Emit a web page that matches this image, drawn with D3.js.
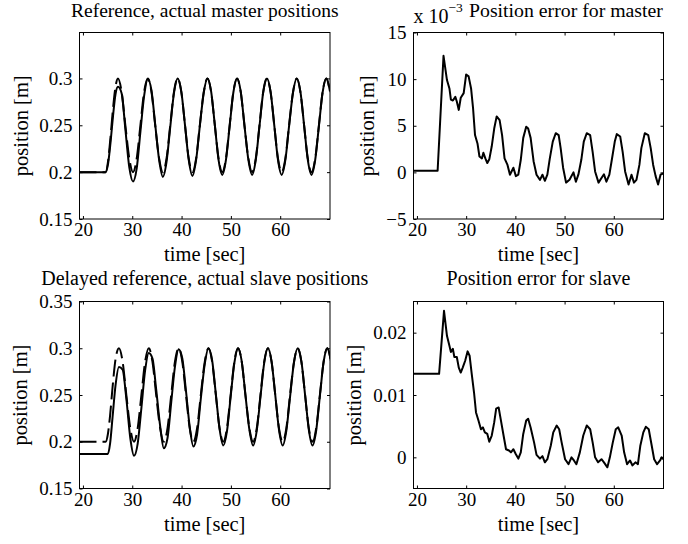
<!DOCTYPE html>
<html>
<head>
<meta charset="utf-8">
<script src="https://cdn.jsdelivr.net/npm/d3@7"></script>
<style>
body { margin: 0; background: #fff; }
svg text { font-family: "Liberation Serif", "Times New Roman", serif; fill: #000; }
</style>
</head>
<body>
<svg id="chart" width="688" height="544"></svg>
<script>
// shared x axis (time, sec)
var xDomain = [19.3, 70.1];
var xTicks = [20, 30, 40, 50, 60];

// master: reference (dashed) and actual position, m
var tMaster = [19.3, 24.6, 25.1, 25.6, 26.1, 26.6, 27.1,
  27.85, 28.6, 29.4, 30.15, 30.9, 31.65, 32.4, 33.15,
  33.9, 34.65, 35.45, 36.2, 36.95, 37.7, 38.45, 39.2,
  39.95, 40.7, 41.45, 42.2, 42.95, 43.7, 44.5, 45.25,
  46.0, 46.75, 47.5, 48.25, 49.0, 49.75, 50.5, 51.25,
  52.0, 52.75, 53.55, 54.3, 55.05, 55.8, 56.55, 57.3,
  58.05, 58.8, 59.55, 60.3, 61.05, 61.8, 62.6, 63.35,
  64.1, 64.85, 65.6, 66.35, 67.1, 67.85, 68.6, 69.35, 70.1];
var masterRef = [0.2, 0.2, 0.212, 0.238, 0.268, 0.291, 0.3,
  0.2854, 0.25, 0.2146, 0.2, 0.2146, 0.25, 0.2854, 0.3,
  0.2854, 0.25, 0.2146, 0.2, 0.2146, 0.25, 0.2854, 0.3,
  0.2854, 0.25, 0.2146, 0.2, 0.2146, 0.25, 0.2854, 0.3,
  0.2854, 0.25, 0.2146, 0.2, 0.2146, 0.25, 0.2854, 0.3,
  0.2854, 0.25, 0.2146, 0.2, 0.2146, 0.25, 0.2854, 0.3,
  0.2854, 0.25, 0.2146, 0.2, 0.2146, 0.25, 0.2854, 0.3,
  0.2854, 0.25, 0.2146, 0.2, 0.2146, 0.25, 0.2854, 0.3, 0.2854];
var masterPos = [0.2, 0.2, 0.209, 0.232, 0.260, 0.283, 0.291,
  0.284, 0.246, 0.205, 0.190, 0.204, 0.243, 0.281, 0.299,
  0.287, 0.251, 0.213, 0.195, 0.211, 0.248, 0.284, 0.300,
  0.286, 0.250, 0.213, 0.196, 0.213, 0.249, 0.285, 0.300,
  0.286, 0.250, 0.213, 0.197, 0.213, 0.249, 0.285, 0.300,
  0.286, 0.250, 0.213, 0.197, 0.213, 0.249, 0.285, 0.300,
  0.286, 0.250, 0.213, 0.197, 0.213, 0.249, 0.285, 0.300,
  0.286, 0.250, 0.213, 0.197, 0.213, 0.249, 0.285, 0.300, 0.286];

// slave: delayed reference (dashed) and actual position, m
var tSlave = [19.3, 24.6, 25.05, 25.5, 26.0, 26.6, 27.3,
  28.05, 28.8, 29.6, 30.35, 31.1, 31.85, 32.6, 33.35,
  34.1, 34.85, 35.65, 36.4, 37.15, 37.9, 38.65, 39.4,
  40.15, 40.9, 41.65, 42.4, 43.15, 43.9, 44.7, 45.45,
  46.2, 46.95, 47.7, 48.45, 49.2, 49.95, 50.7, 51.45,
  52.2, 52.95, 53.75, 54.5, 55.25, 56.0, 56.75, 57.5,
  58.25, 59.0, 59.75, 60.5, 61.25, 62.0, 62.8, 63.55,
  64.3, 65.05, 65.8, 66.55, 67.3, 68.05, 68.8, 69.55, 70.3];
var slaveRef = [0.2, 0.2, 0.208, 0.228, 0.258, 0.288, 0.3,
  0.2854, 0.25, 0.2146, 0.2, 0.2146, 0.25, 0.2854, 0.3,
  0.2854, 0.25, 0.2146, 0.2, 0.2146, 0.25, 0.2854, 0.3,
  0.2854, 0.25, 0.2146, 0.2, 0.2146, 0.25, 0.2854, 0.3,
  0.2854, 0.25, 0.2146, 0.2, 0.2146, 0.25, 0.2854, 0.3,
  0.2854, 0.25, 0.2146, 0.2, 0.2146, 0.25, 0.2854, 0.3,
  0.2854, 0.25, 0.2146, 0.2, 0.2146, 0.25, 0.2854, 0.3,
  0.2854, 0.25, 0.2146, 0.2, 0.2146, 0.25, 0.2854, 0.3, 0.2854];
var slavePos = [0.187, 0.187, 0.187, 0.198, 0.226, 0.260, 0.280,
  0.277, 0.246, 0.204, 0.185, 0.198, 0.236, 0.276, 0.295,
  0.289, 0.256, 0.217, 0.193, 0.204, 0.242, 0.280, 0.299,
  0.289, 0.254, 0.216, 0.195, 0.208, 0.246, 0.283, 0.300,
  0.287, 0.251, 0.214, 0.196, 0.211, 0.248, 0.284, 0.300,
  0.286, 0.250, 0.213, 0.196, 0.212, 0.248, 0.284, 0.300,
  0.286, 0.250, 0.213, 0.196, 0.212, 0.248, 0.285, 0.300,
  0.286, 0.250, 0.213, 0.196, 0.212, 0.249, 0.285, 0.300, 0.286];

// master position error, x 10^-3 m
var tErrMaster = [19.3, 24.2, 25.4, 26.1, 26.6, 26.9, 27.3, 27.8, 28.1, 28.5,
  28.9, 29.5, 30.0, 30.5, 31.0, 31.4, 31.8, 32.3, 32.7, 33.2,
  33.5, 33.9, 34.3, 34.7, 35.2, 35.7, 36.2, 36.8, 37.3, 37.8,
  38.4, 38.9, 39.6, 40.1, 40.6, 41.1, 41.6, 42.2, 42.6, 43.1,
  43.7, 44.3, 45.0, 45.5, 46.0, 46.5, 47.0, 47.6, 48.2, 48.8,
  49.2, 49.7, 50.3, 51.0, 51.8, 52.3, 52.8, 53.4, 53.9, 54.5,
  55.2, 55.7, 56.2, 56.9, 57.5, 58.0, 58.5, 59.1, 59.6, 60.2,
  60.6, 61.3, 61.8, 62.3, 63.0, 63.6, 64.1, 64.6, 65.2, 65.6,
  66.3, 67.0, 67.5, 68.0, 68.5, 69.0, 69.5, 70.1];
var errMaster = [0.17, 0.17, 12.5, 9.9, 9.0, 7.8, 7.7, 8.1, 7.6, 6.7,
  8.0, 8.5, 10.5, 10.3, 9.0, 6.9, 4.0, 3.1, 1.7, 1.5,
  2.1, 1.5, 1.0, 1.4, 2.8, 4.7, 6.0, 5.6, 4.0, 1.5,
  0.8, -0.25, 0.5, -0.4, -0.25, 1.35, 3.7, 4.9, 4.7, 3.7,
  1.2, -0.25, -0.8, -0.25, -0.9, -0.25, 1.5, 3.3, 4.2, 4.0,
  2.6, 0.5, -1.1, -0.8, 0, -1.0, -0.25, 1.35, 3.3, 4.2,
  4.0, 2.2, 0.1, -1.1, -0.6, -0.2, -1.0, -0.25, 1.35, 3.3,
  4.1, 3.85, 2.2, 0.1, -1.3, -0.25, -1.1, -0.8, 0.8, 2.6,
  4.2, 4.0, 2.6, 0.8, -0.4, -1.3, -0.25, -0.1];

// slave position error, mm (axis shows metres)
var tErrSlave = [19.3, 24.5, 25.5, 26.1, 26.6, 26.9, 27.3, 27.6, 28.1, 28.5,
  28.9, 29.3, 29.8, 30.3, 30.7, 31.1, 31.6, 32.0, 32.5, 33.0,
  33.4, 33.8, 34.3, 34.7, 35.2, 35.7, 36.1, 36.6, 37.0, 37.6,
  38.1, 38.7, 39.1, 39.6, 40.1, 40.6, 41.1, 41.6, 42.2, 42.6,
  43.1, 43.8, 44.3, 45.0, 45.5, 46.0, 46.5, 47.2, 47.7, 48.4,
  48.9, 49.4, 50.1, 50.8, 51.4, 51.9, 52.4, 53.1, 53.8, 54.5,
  55.2, 55.7, 56.2, 56.8, 57.5, 58.0, 58.7, 59.2, 59.8, 60.4,
  60.9, 61.6, 62.1, 62.7, 63.3, 63.8, 64.4, 64.9, 65.4, 66.0,
  66.5, 67.1, 67.7, 68.2, 68.8, 69.4, 69.7, 70.1];
var errSlave = [13.4, 13.4, 23.5, 19.5, 17.9, 16.9, 17.4, 16.1, 16.1, 14.4,
  13.6, 14.4, 15.5, 17.0, 16.3, 13.6, 10.4, 7.2, 5.9, 4.5,
  4.8, 4.0, 3.75, 2.5, 3.5, 5.6, 7.8, 8.0, 6.2, 3.5,
  1.3, 1.1, 0.8, 1.3, 0.5, -0.2, 0.8, 3.75, 5.9, 6.2,
  4.8, 2.4, 0.4, -0.2, 0.2, -0.8, -0.3, 1.9, 4.0, 5.1,
  4.5, 2.4, -0.3, -1.1, 0, -0.5, -1.1, 0.8, 3.5, 5.1,
  4.5, 2.4, 0, -0.8, -0.3, -0.8, -1.6, 0, 2.4, 4.5,
  4.8, 3.5, 0.8, -1.1, -0.5, -1.3, -0.8, -1.1, 1.9, 4.0,
  4.9, 4.5, 1.9, -0.3, -1.1, -0.5, 0, -0.3];

// y ticks per panel
var posTicks1 = [0.15, 0.2, 0.25, 0.3];
var posTicks3 = [0.15, 0.2, 0.25, 0.3, 0.35];
var errTicksMaster = [-5, 0, 5, 10, 15];
var errTicksSlave = [0, 10, 20];

var FONT = '"Liberation Serif", "Times New Roman", serif';
var svg = d3.select("#chart");

function drawPanel(p) {
    var x = d3.scaleLinear().domain(xDomain).range([p.left, p.right]);
    var y = d3.scaleLinear().domain(p.yDomain).range([p.bottom, p.top]);
    var g = svg.append("g");

    g.append("clipPath").attr("id", "clip" + p.id)
        .append("rect")
        .attr("x", p.left).attr("y", p.top)
        .attr("width", p.right - p.left).attr("height", p.bottom - p.top);

    // inward ticks on all four sides, like matlab's box
    g.append("g").attr("transform", "translate(0," + p.bottom + ")")
        .call(d3.axisBottom(x).tickValues(xTicks).tickSize(-3).tickPadding(4));
    g.append("g").attr("transform", "translate(0," + p.top + ")")
        .call(d3.axisTop(x).tickValues(xTicks).tickSize(-3).tickFormat(""));
    g.append("g").attr("transform", "translate(" + p.left + ",0)")
        .call(d3.axisLeft(y).tickValues(p.yTicks).tickSize(-3).tickPadding(7).tickFormat(p.yFormat));
    g.append("g").attr("transform", "translate(" + p.right + ",0)")
        .call(d3.axisRight(y).tickValues(p.yTicks).tickSize(-3).tickFormat(""));

    g.selectAll(".domain").remove();
    g.selectAll(".tick line").attr("stroke", "#000");
    g.selectAll(".tick text").style("font-family", FONT).style("font-size", "19px").attr("fill", "#000");

    var line = d3.line()
        .x(function(d) { return x(d[0]); })
        .y(function(d) { return y(d[1]); })
        .curve(p.smooth ? d3.curveMonotoneX : d3.curveLinear);

    p.series.forEach(function(s) {
        g.append("path")
            .datum(d3.zip(s.t, s.v))
            .attr("clip-path", "url(#clip" + p.id + ")")
            .attr("d", line)
            .attr("fill", "none")
            .attr("stroke", "#000")
            .attr("stroke-width", 2)
            .attr("stroke-linejoin", "round")
            .attr("stroke-dasharray", s.dashed ? "17,6" : null);
    });

    g.append("rect")
        .attr("x", p.left).attr("y", p.top)
        .attr("width", p.right - p.left).attr("height", p.bottom - p.top)
        .attr("fill", "none").attr("stroke", "#000").attr("stroke-width", 1);

    var cx = (p.left + p.right) / 2;
    g.append("text").attr("x", p.titleX || cx).attr("y", p.titleY)
        .attr("text-anchor", p.titleX ? "start" : "middle")
        .style("font-size", (p.titleSize || 20) + "px").text(p.title);
    g.append("text").attr("x", cx).attr("y", p.bottom + 42)
        .attr("text-anchor", "middle").style("font-size", "20.5px").text("time [sec]");
    g.append("text")
        .attr("transform", "translate(" + p.ylabelX + "," + (p.top + p.bottom) / 2 + ") rotate(-90)")
        .attr("text-anchor", "middle").style("font-size", "20.5px").text("position [m]");
    return g;
}

var fmtPos = function(d) { return String(d); };

drawPanel({ id: 1, left: 79.5, right: 330, top: 32.5, bottom: 219, smooth: true,
    yDomain: [0.15, 0.349], yTicks: posTicks1, yFormat: fmtPos,
    title: "Reference, actual master positions", titleY: 17, titleSize: 19.5, ylabelX: 28,
    series: [{ t: tMaster, v: masterRef, dashed: true }, { t: tMaster, v: masterPos }] });

var g2 = drawPanel({ id: 2, left: 413.5, right: 663.5, top: 32.5, bottom: 219,
    yDomain: [-5, 15], yTicks: errTicksMaster, yFormat: d3.format("d"),
    title: "Position error for master", titleX: 469, titleY: 17, titleSize: 19.8, ylabelX: 374,
    series: [{ t: tErrMaster, v: errMaster }] });

// matlab style exponent over the axis
var expo = g2.append("text").attr("x", 413.5).attr("y", 23).style("font-size", "20px");
expo.append("tspan").text("x 10");
expo.append("tspan").attr("dy", -11).style("font-size", "13.5px").text("\u22123");

drawPanel({ id: 3, left: 79.5, right: 330, top: 301.5, bottom: 488.5, smooth: true,
    yDomain: [0.15, 0.35], yTicks: posTicks3, yFormat: fmtPos,
    title: "Delayed reference, actual slave positions", titleY: 285, ylabelX: 27,
    series: [{ t: tSlave, v: slaveRef, dashed: true }, { t: tSlave, v: slavePos }] });

drawPanel({ id: 4, left: 413.5, right: 663.5, top: 301.5, bottom: 488.5,
    yDomain: [-5, 25], yTicks: errTicksSlave, yFormat: function(d) { return String(d / 1000); },
    title: "Position error for slave", titleY: 285, ylabelX: 361,
    series: [{ t: tErrSlave, v: errSlave }] });
</script>
</body>
</html>
